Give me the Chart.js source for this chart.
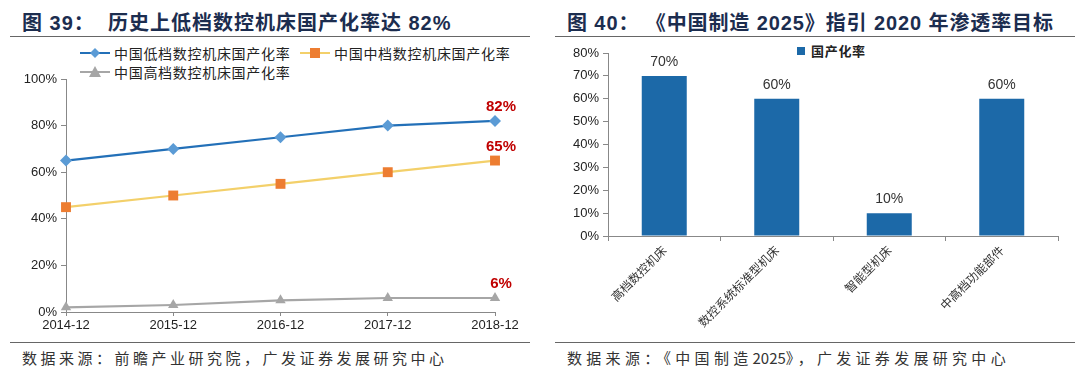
<!DOCTYPE html>
<html>
<head>
<meta charset="utf-8">
<script src="https://cdn.jsdelivr.net/npm/chart.js@4.4.1/dist/chart.umd.min.js"></script>
<style>
  body { margin: 0; background: #fff; width: 1080px; height: 375px; position: relative; overflow: hidden;
         font-family: "Liberation Sans", "Noto Sans CJK SC", sans-serif; }
  .title { position: absolute; top: 7px; font-size: 20px; font-weight: bold; color: #1c2d4f; white-space: pre;
           letter-spacing: 1px; font-family: "Liberation Sans", "Noto Sans CJK SC", sans-serif; }
  .rule { position: absolute; height: 0; border-top: 1.5px solid #666; }
  .source { position: absolute; top: 347px; font-size: 15px; color: #333; letter-spacing: 3.5px; white-space: nowrap;
            font-family: "Noto Sans CJK SC", sans-serif; }
  canvas { position: absolute; }
  .leg { position: absolute; font-size: 14px; color: #222; white-space: nowrap; font-family: "Noto Sans CJK SC", sans-serif;
         display: flex; align-items: center; letter-spacing: 0.7px; }
  .leg svg { margin-right: 4px; }
</style>
</head>
<body>

<div class="title" style="left:22px">图 39：  历史上低档数控机床国产化率达 82%</div>
<div class="rule" style="left:10px; width:520px; top:36px"></div>
<div class="rule" style="left:10px; width:520px; top:342px"></div>
<div class="source" style="left:22px">数据来源：前瞻产业研究院，广发证券发展研究中心</div>

<div class="title" style="left:567px; letter-spacing:0.9px">图 40： 《中国制造 2025》指引 2020 年渗透率目标</div>
<div class="rule" style="left:555px; width:520px; top:36px"></div>
<div class="rule" style="left:555px; width:520px; top:342px"></div>
<div class="source" style="left:567px; letter-spacing:4.3px">数据来源：《中国制造<span style="letter-spacing:0">2025</span>》，广发证券发展研究中心</div>

<div class="leg" style="left:80px; top:43px">
  <svg width="30" height="14"><line x1="0" y1="7" x2="30" y2="7" stroke="#2370b8" stroke-width="2"/><polygon points="15,2 20,7 15,12 10,7" fill="#5b9bd5"/></svg>中国低档数控机床国产化率</div>
<div class="leg" style="left:300px; top:43px">
  <svg width="30" height="14"><line x1="0" y1="7" x2="30" y2="7" stroke="#f3d06a" stroke-width="2"/><rect x="10" y="2" width="10" height="10" fill="#ed7d31"/></svg>中国中档数控机床国产化率</div>
<div class="leg" style="left:80px; top:62px">
  <svg width="30" height="14"><line x1="0" y1="7" x2="30" y2="7" stroke="#a6a6a6" stroke-width="2"/><polygon points="15,1 21,12 9,12" fill="#a6a6a6"/></svg>中国高档数控机床国产化率</div>

<div class="leg" style="left:797px; top:41px; font-size:13px; font-weight:bold">
  <svg width="10" height="14"><rect x="0" y="3" width="8" height="8" fill="#1c69a8"/></svg>国产化率</div>

<canvas id="lineChart" width="540" height="300" style="left:0; top:40px"></canvas>
<canvas id="barChart" width="540" height="300" style="left:540px; top:40px"></canvas>

<script>
// ----- data -----
const years = ['2014-12', '2015-12', '2016-12', '2017-12', '2018-12'];
const lowEnd = [65, 70, 75, 80, 82];
const midEnd = [45, 50, 55, 60, 65];
const highEnd = [2, 3, 5, 6, 6];
const lineNames = ['中国低档数控机床国产化率', '中国中档数控机床国产化率', '中国高档数控机床国产化率'];
const lineTicks = [0, 20, 40, 60, 80, 100];

const barCats = ['高档数控机床', '数控系统标准型机床', '智能型机床', '中高档功能部件'];
const barVals = [70, 60, 10, 60];
const barName = '国产化率';
const barTicks = [0, 10, 20, 30, 40, 50, 60, 70, 80];

const axisColor = '#888';
const tickFont = { family: '"Liberation Sans", Arial, sans-serif', size: 13 };

// red label on the last point of every line
const lastLabels = {
  id: 'lastLabels',
  afterDatasetsDraw(chart) {
    const ctx = chart.ctx;
    ctx.save();
    ctx.fillStyle = '#c00000';
    ctx.font = 'bold 15px "Liberation Sans", Arial, sans-serif';
    ctx.textAlign = 'center';
    ctx.textBaseline = 'middle';
    chart.data.datasets.forEach((ds, i) => {
      const pts = chart.getDatasetMeta(i).data;
      const p = pts[pts.length - 1];
      const v = ds.data[ds.data.length - 1];
      ctx.fillText(v + '%', p.x + 6, p.y - 14);
    });
    ctx.restore();
  }
};

// value above each bar
const barValues = {
  id: 'barValues',
  afterDatasetsDraw(chart) {
    const ctx = chart.ctx;
    ctx.save();
    ctx.fillStyle = '#333';
    ctx.font = '14px "Liberation Sans", Arial, sans-serif';
    ctx.textAlign = 'center';
    ctx.textBaseline = 'middle';
    chart.getDatasetMeta(0).data.forEach((bar, i) => {
      ctx.fillText(chart.data.datasets[0].data[i] + '%', bar.x, bar.y - 14);
    });
    ctx.restore();
  }
};

// 1. line chart
new Chart(document.getElementById('lineChart'), {
  type: 'line',
  data: {
    labels: years,
    datasets: [
      { label: lineNames[0], data: lowEnd, borderColor: '#2370b8', borderWidth: 2.2,
        pointStyle: 'rectRot', pointRadius: 6, pointBackgroundColor: '#5b9bd5', pointBorderWidth: 0 },
      { label: lineNames[1], data: midEnd, borderColor: '#f3d06a', borderWidth: 2.2,
        pointStyle: 'rect', pointRadius: 7, pointBackgroundColor: '#ed7d31', pointBorderWidth: 0 },
      { label: lineNames[2], data: highEnd, borderColor: '#a6a6a6', borderWidth: 2.2,
        pointStyle: 'triangle', pointRadius: 6, pointBackgroundColor: '#a6a6a6', pointBorderWidth: 0 }
    ]
  },
  options: {
    responsive: false,
    animation: false,
    layout: { padding: { top: 39, right: 45, left: 0, bottom: 0 } },
    plugins: { legend: { display: false }, tooltip: { enabled: false } },
    scales: {
      x: {
        offset: false,
        border: { color: axisColor, width: 1 },
        grid: { drawOnChartArea: false, drawTicks: true, tickLength: 4, tickColor: axisColor },
        ticks: { color: '#222', font: tickFont, maxRotation: 0, autoSkip: false, padding: 2 },
        afterFit(s) { s.height = 28; }
      },
      y: {
        min: 0, max: 100,
        afterBuildTicks(s) { s.ticks = lineTicks.map(v => ({ value: v })); },
        border: { color: axisColor, width: 1 },
        grid: { drawOnChartArea: false, drawTicks: true, tickLength: 5, tickColor: axisColor },
        ticks: { color: '#222', font: tickFont, padding: 4, callback: v => v + '%' },
        afterFit(s) { s.width = 66; }
      }
    }
  },
  plugins: [lastLabels]
});

// 2. bar chart
new Chart(document.getElementById('barChart'), {
  type: 'bar',
  data: {
    labels: barCats,
    datasets: [{
      label: barName,
      data: barVals,
      backgroundColor: '#1c69a8',
      barPercentage: 0.4,
      categoryPercentage: 1
    }]
  },
  options: {
    responsive: false,
    animation: false,
    layout: { padding: { top: 13, right: 22, left: 0, bottom: 0 } },
    plugins: { legend: { display: false }, tooltip: { enabled: false } },
    scales: {
      x: {
        border: { color: axisColor, width: 1 },
        grid: { drawOnChartArea: false, drawTicks: true, tickLength: 5, tickColor: axisColor },
        ticks: { color: '#333', font: { family: '"Noto Sans CJK SC", sans-serif', size: 12 },
                 minRotation: 45, maxRotation: 45, autoSkip: false, padding: 2 },
        afterFit(s) { s.height = 104; }
      },
      y: {
        min: 0, max: 80,
        afterBuildTicks(s) { s.ticks = barTicks.map(v => ({ value: v })); },
        border: { color: axisColor, width: 1 },
        grid: { drawOnChartArea: false, drawTicks: true, tickLength: 5, tickColor: axisColor },
        ticks: { color: '#222', font: tickFont, padding: 4, callback: v => v + '%' },
        afterFit(s) { s.width = 68; }
      }
    }
  },
  plugins: [barValues]
});
</script>
</body>
</html>
